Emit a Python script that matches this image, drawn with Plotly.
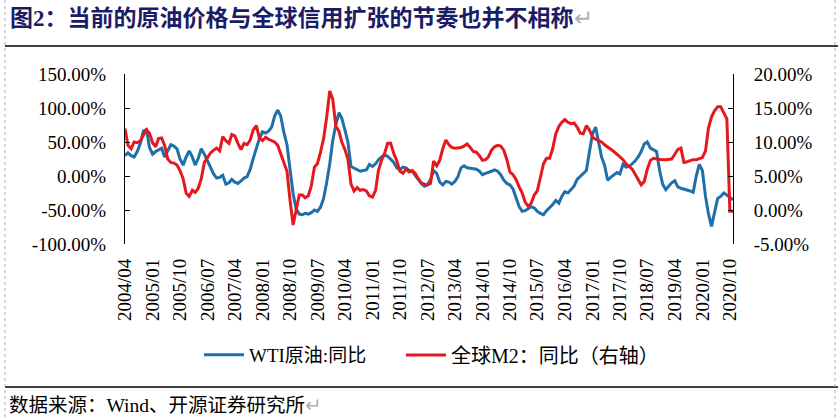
import pandas as pd
import plotly.graph_objects as go

# ---------------- data ----------------
start_month = "2004-04-01"
n_months = 200
months = pd.date_range(start_month, periods=n_months, freq="MS")

wti_yoy = [
    30, 34, 30, 28, 36, 48, 66, 68, 42, 32,
    36, 38, 41, 28, 38, 46, 44, 40, 25, 16,
    28, 37, 28, 16, 26, 40, 32, 22, 12, 3,
    -3, -2, 1, -12, -10, -5, -9, -11, -7, -3,
    -1, 10, 26, 42, 55, 65, 63, 66, 72, 88,
    97, 88, 64, 46, 10, -26, -48, -56, -57, -55,
    -56, -54, -50, -52, -46, -33, -10, 18, 52, 76,
    93, 85, 68, 50, 14, 12, 10, 7, 8, 9,
    17, 14, 18, 24, 28, 31, 29, 25, 20, 12,
    9, 13, 12, 8, 7, 1, -6, -11, -15, -13,
    -5, 8, 4, -9, -13, -8, -9, -12, -8, -1,
    12, 15, 12, 11, 11, 10, 7, 2, 4, 6,
    7, 9, 7, 2, -6, -11, -13, -19, -32, -45,
    -52, -51, -48, -45, -47, -52, -55, -57, -51, -47,
    -42, -36, -40, -30, -23, -25, -20, -15, -5, -1,
    3, 8, 35, 62, 72, 52, 28, 16, -6, -2,
    2, 5, 3, 17, 13, 14, 18, 22, 28, 36,
    47, 50, 41, 38, 36, 8, -12, -20, -15, -10,
    -7, -16, -18, -19, -21, -22, -24, 0, 17, 8,
    -30, -55, -74, -52, -33, -30, -25, -28, -32, -35,
]

m2_yoy = [
    12.0, 9.5, 9.0, 10.0, 9.9, 10.2, 11.0, 11.8, 11.3, 9.9,
    9.3, 10.5, 10.6, 9.5, 7.5, 7.0, 6.9, 6.6, 5.8, 4.6,
    2.5, 2.0, 2.9, 2.6, 3.2, 4.6, 7.0, 7.8, 8.4, 8.8,
    9.1, 8.7, 10.8, 10.2, 9.8, 11.1, 10.9, 9.8, 8.9, 9.8,
    9.6, 10.3, 11.8, 12.4, 10.6, 10.2, 10.7, 10.4, 10.2, 10.0,
    9.5, 8.3, 7.2, 5.7, 1.5, -2.2, 0.0, 2.2, 2.2, 1.8,
    2.1, 3.5, 6.3, 6.8, 8.5, 10.5, 13.6, 17.5, 16.3, 12.3,
    11.6, 10.0, 8.9, 7.5, 3.8, 2.8, 3.3, 2.9, 3.0, 2.8,
    2.1, 1.9, 2.9, 5.8, 7.3, 8.3, 9.8, 9.8, 8.3, 7.2,
    5.7, 5.4, 6.0, 5.6, 5.8, 5.4, 4.6, 4.0, 3.8, 3.7,
    3.9, 7.2, 6.5, 7.3, 9.0, 10.3, 9.6, 9.2, 9.1, 9.1,
    9.2, 9.4, 9.7, 9.2, 8.6, 8.5, 8.0, 7.3, 7.4, 7.8,
    8.8, 9.3, 9.5, 9.4, 8.8, 7.4, 5.6, 5.2, 4.5, 3.4,
    2.5, 1.2, 0.5, 1.0, 2.2, 2.8, 4.6, 6.8, 7.6, 7.6,
    9.0, 11.2, 12.3, 12.9, 13.3, 12.9, 12.7, 12.8, 12.2, 11.3,
    11.2, 12.4, 11.8, 10.7, 10.4, 10.2, 10.0, 9.6, 9.3, 9.0,
    8.6, 8.2, 7.8, 7.4, 6.8, 6.4, 6.0, 5.3, 4.4, 3.7,
    4.2, 6.0, 7.3, 7.6, 7.5, 7.4, 7.4, 7.4, 7.4, 7.5,
    8.2, 8.9, 9.1, 7.0, 7.1, 7.3, 7.4, 7.4, 7.5, 7.7,
    8.7, 12.0, 13.7, 14.6, 15.2, 15.2, 14.3, 13.4, -0.2, -0.2,
]

tick_step_months = 9
left_ticks = [-100, -50, 0, 50, 100, 150]
right_ticks = [-5, 0, 5, 10, 15, 20]

series_names = ["WTI原油:同比", "全球M2：同比（右轴）"]
title_text = "图2：当前的原油价格与全球信用扩张的节奏也并不相称"
source_text = "数据来源：Wind、开源证券研究所"

# ---------------- layout helpers ----------------
W, H = 838, 418
L, R, T, B = 125, 733, 74, 244


def px(x):
    return (x - L) / (R - L)


def py(y):
    return (B - y) / (B - T)


SERIF = "Liberation Serif, 'Noto Sans CJK SC', serif"
BLUE = "#1f6fa8"
RED = "#e5181e"

tick_dates = months[::tick_step_months]
tick_text = [d.strftime("%Y/%m") for d in tick_dates]
left_text = [f"{v:.2f}%" for v in left_ticks]
right_text = [f"{v:.2f}%" for v in right_ticks]

fig = go.Figure()
fig.add_trace(go.Scatter(x=months, y=wti_yoy, name=series_names[0], mode="lines",
                         line=dict(color=BLUE, width=3), xaxis="x", yaxis="y",
                         legend="legend"))
fig.add_trace(go.Scatter(x=months, y=m2_yoy, name=series_names[1], mode="lines",
                         line=dict(color=RED, width=3), xaxis="x", yaxis="y2",
                         legend="legend2"))

xr = [months[0], months[-1]]

legend_common = dict(orientation="h", xanchor="left", yanchor="middle", y=py(355),
                     bgcolor="rgba(0,0,0,0)", itemwidth=40)

fig.update_layout(
    width=W, height=H,
    margin=dict(l=L, r=W - R, t=T, b=H - B, pad=0),
    paper_bgcolor="white", plot_bgcolor="white",
    font=dict(family=SERIF, size=19, color="black"),
    showlegend=True,
    hovermode=False,
    xaxis=dict(type="date", range=xr, tickvals=list(tick_dates), ticktext=tick_text,
               tickangle=-90, showgrid=False, zeroline=False, showline=False,
               ticks="", ticklabelstandoff=10, tickfont=dict(size=19)),
    xaxis2=dict(type="date", range=xr, overlaying="x", anchor="free", position=py(176),
                tickvals=list(tick_dates), showticklabels=False, showgrid=False,
                zeroline=False, showline=True, linecolor="black", linewidth=1,
                ticks="inside", ticklen=6, tickcolor="black", tickwidth=1),
    yaxis=dict(range=[-100, 150], tickvals=left_ticks, ticktext=left_text,
               showgrid=False, zeroline=False, showline=True, linecolor="black",
               linewidth=1, ticks="inside", ticklen=5, tickcolor="black",
               ticklabelstandoff=14),
    yaxis2=dict(range=[-5, 20], tickvals=right_ticks, ticktext=right_text,
                overlaying="y", side="right", anchor="x",
                showgrid=False, zeroline=False, showline=True, linecolor="black",
                linewidth=1, ticks="inside", ticklen=5, tickcolor="black",
                ticklabelstandoff=16),
    legend=dict(legend_common, x=px(199), font=dict(family=SERIF, size=19)),
    legend2=dict(legend_common, x=px(401), font=dict(family=SERIF, size=20)),
    title=dict(text=title_text + "<span style='color:#b0b0b0;font-weight:normal'>↵</span>",
               x=10 / W, xanchor="left", xref="container",
               y=1 - 18 / H, yanchor="middle", yref="container",
               font=dict(family="Liberation Serif, 'Noto Sans CJK SC', serif", size=23,
                         color="#1c1c66", weight="bold")),
    annotations=[
        dict(text=source_text + "<span style='color:#b0b0b0'>↵</span>",
             xref="paper", yref="paper", x=px(7), y=py(405),
             xanchor="left", yanchor="middle", showarrow=False,
             font=dict(family=SERIF, size=19.5, color="black")),
    ],
    shapes=[
        dict(type="line", xref="paper", yref="paper", x0=px(5), x1=px(838), y0=py(46), y1=py(46),
             line=dict(color="black", width=1.5)),
        dict(type="line", xref="paper", yref="paper", x0=px(5), x1=px(838), y0=py(387), y1=py(387),
             line=dict(color="black", width=1.5)),
        dict(type="line", xref="paper", yref="paper", x0=px(5), x1=px(5), y0=py(0), y1=py(418),
             line=dict(color="#aaaaaa", width=1, dash="dot")),
        dict(type="line", xref="paper", yref="paper", x0=px(835), x1=px(835), y0=py(0), y1=py(418),
             line=dict(color="#aaaaaa", width=1, dash="dot")),
    ],
)

fig.write_html("out.html", config={"displayModeBar": False})
